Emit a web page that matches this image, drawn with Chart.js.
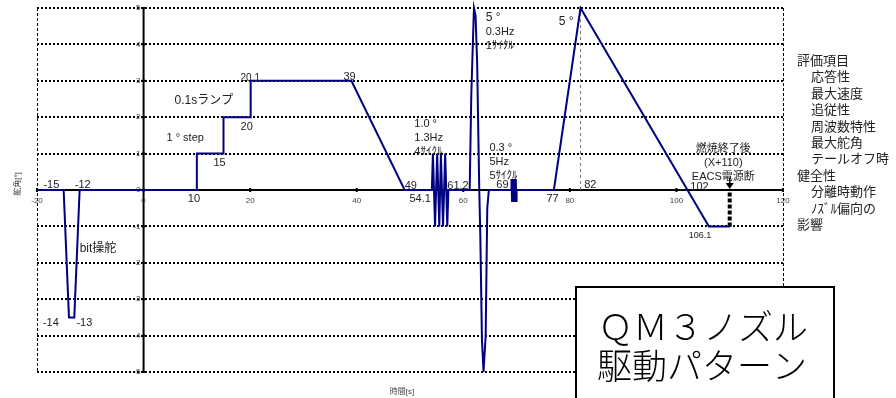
<!DOCTYPE html>
<html lang="ja">
<head>
<meta charset="utf-8">
<title>QM3ノズル駆動パターン</title>
<script src="https://cdn.jsdelivr.net/npm/chart.js@4/dist/chart.umd.min.js"></script>
<style>
  html, body { margin: 0; padding: 0; background: #fff; }
  #wrap { width: 896px; height: 398px; position: relative; }
</style>
</head>
<body>
<div id="wrap"><canvas id="myChart" width="896" height="398"></canvas></div>
<script>
// 駆動パターン（時間[s] と 舵角[°]）
const timeS = [
  -20, -15, -14, -13, -12,
  10, 10, 15, 15, 20, 20.1, 39, 49,
  54.1, 54.3, 54.7, 55.1, 55.5, 55.8, 56.2, 56.6, 57.0, 57.2,
  61.2, 61.5, 62.0, 62.3, 62.6, 63.0, 63.2, 63.5, 63.8, 64.2, 64.5, 64.8,
  69, 69.05, 69.15, 69.25, 69.35, 69.45, 69.55, 69.65, 69.75, 69.85, 69.95, 70,
  77, 82, 106.1, 110
];
const angleDeg = [
  0, 0, -3.5, -3.5, 0,
  0, 1, 1, 2, 2, 3, 3, 0,
  0, 1, -1, 1, -1, 1, -1, 1, -1, 0,
  0, 2.6, 5, 4.8, 3.5, 0, -1.3, -4.1, -5, -4, -0.5, 0,
  0, 0.3, -0.3, 0.3, -0.3, 0.3, -0.3, 0.3, -0.3, 0.3, -0.3, 0,
  0, 5, -1, -1
];

// 補助線
const peakMarkT = [82, 82];
const peakMarkA = [0, 5];
const cutoffT = [110, 110];
const cutoffA = [-1, 0];

// 目盛
const xTicks = [-20, 0, 20, 40, 60, 80, 100, 120];
const yTicks = [5, 4, 3, 2, 1, 0, -1, -2, -3, -4, -5];

// 注記 [文字, 時間, 舵角, 文字サイズ, 揃え]
const notes = [
  ['-15', -18.8, 0.14, 11], ['-12', -12.9, 0.14, 11],
  ['-14', -18.9, -3.65, 11], ['-13', -12.6, -3.65, 11],
  ['bit操舵', -12.0, -1.6, 12],
  ['1 ° step', 4.3, 1.43, 11], ['0.1sランプ', 5.8, 2.45, 12],
  ['20.1', 18.2, 3.08, 10], ['15', 13.1, 0.74, 11], ['20', 18.2, 1.73, 11],
  ['10', 8.3, -0.25, 11], ['39', 37.5, 3.1, 11],
  ['49', 49.0, 0.11, 11], ['54.1', 49.9, -0.25, 11], ['61.2', 57.0, 0.11, 11],
  ['1.0 °', 50.8, 1.81, 11], ['1.3Hz', 50.8, 1.43, 11], ['4ｻｲｸﾙ', 50.8, 1.04, 11],
  ['5 °', 64.2, 4.73, 12], ['0.3Hz', 64.2, 4.34, 11], ['1ｻｲｸﾙ', 64.2, 3.96, 11],
  ['0.3 °', 64.9, 1.15, 11], ['5Hz', 64.9, 0.77, 11], ['5ｻｲｸﾙ', 64.9, 0.38, 11],
  ['69', 66.2, 0.14, 11], ['77', 75.6, -0.25, 11], ['5 °', 77.9, 4.62, 12],
  ['82', 82.7, 0.14, 11], ['102', 102.6, 0.08, 11], ['106.1', 102.3, -1.24, 9],
  ['燃焼終了後', 108.8, 1.13, 11, 'center'], ['(X+110)', 108.8, 0.74, 11, 'center'],
  ['EACS電源断', 108.8, 0.36, 11, 'center']
];

const evalItems = [
  ['評価項目', 0], ['応答性', 1], ['最大速度', 1], ['追従性', 1], ['周波数特性', 1],
  ['最大舵角', 1], ['テールオフ時', 1], ['健全性', 0], ['分離時動作', 1],
  ['ﾉｽﾞﾙ偏向の', 1], ['影響', 0]
];

const FONT = '"Liberation Sans", "Noto Sans CJK JP", sans-serif';
const JP = '"Noto Sans CJK JP", sans-serif';

const pts = (xs, ys) => xs.map((x, i) => ({ x: x, y: ys[i] }));

// 格子・軸・目盛を描く
const axesPlugin = {
  id: 'axesPlugin',
  beforeDatasetsDraw(chart) {
    const { ctx, scales: { x, y } } = chart;
    const x0 = x.getPixelForValue(-20), x1 = x.getPixelForValue(120);
    const yTop = y.getPixelForValue(5), yBot = y.getPixelForValue(-5);
    const ox = x.getPixelForValue(0), oy = y.getPixelForValue(0);
    ctx.save();
    // 点線の横格子
    ctx.strokeStyle = '#000';
    ctx.lineWidth = 2;
    ctx.setLineDash([2, 2]);
    yTicks.forEach(v => {
      if (v === 0) return;
      const py = Math.round(y.getPixelForValue(v));
      ctx.beginPath(); ctx.moveTo(x0, py); ctx.lineTo(x1, py); ctx.stroke();
    });
    // 左右の破線枠
    ctx.lineWidth = 1;
    ctx.setLineDash([3, 2]);
    [x0, x1].forEach(px => {
      px = Math.round(px) + 0.5;
      ctx.beginPath(); ctx.moveTo(px, yTop); ctx.lineTo(px, yBot); ctx.stroke();
    });
    // 軸
    ctx.setLineDash([]);
    ctx.lineWidth = 2;
    ctx.beginPath(); ctx.moveTo(x0, oy); ctx.lineTo(x1, oy); ctx.stroke();
    ctx.beginPath(); ctx.moveTo(ox, yTop); ctx.lineTo(ox, yBot); ctx.stroke();
    // 目盛と数値
    ctx.font = '8px ' + FONT;
    ctx.textAlign = 'center';
    ctx.textBaseline = 'middle';
    xTicks.forEach(v => {
      const px = x.getPixelForValue(v);
      ctx.fillStyle = '#000';
      ctx.fillRect(px - 1, oy - 2, 2, 4);
      ctx.fillStyle = '#444';
      ctx.fillText(String(v), px, oy + 11);
    });
    ctx.textAlign = 'right';
    yTicks.forEach(v => {
      const py = y.getPixelForValue(v);
      ctx.fillStyle = '#000';
      ctx.fillRect(ox - 2, py - 1, 4, 2);
      ctx.fillStyle = '#444';
      ctx.fillText(String(v), ox - 3, py);
    });
    // 軸ラベル
    ctx.textAlign = 'center';
    ctx.fillText('時間[s]', x.getPixelForValue(48.5), 392);
    ctx.translate(18, oy - 6);
    ctx.rotate(-Math.PI / 2);
    ctx.fillText('舵角[°]', 0, 0);
    ctx.restore();
  },
  afterDatasetsDraw(chart) {
    const { ctx, scales: { x, y } } = chart;
    ctx.save();
    ctx.fillStyle = '#222';
    ctx.textBaseline = 'middle';
    notes.forEach(([t, tx, ty, size, align]) => {
      ctx.font = size + 'px ' + FONT;
      ctx.textAlign = align || 'left';
      ctx.fillText(t, x.getPixelForValue(tx), y.getPixelForValue(ty));
    });
    // 電源断の矢印
    const ax = x.getPixelForValue(110), ay = y.getPixelForValue(0);
    ctx.strokeStyle = '#000';
    ctx.lineWidth = 1.5;
    ctx.beginPath(); ctx.moveTo(ax, ay - 12); ctx.lineTo(ax, ay - 6); ctx.stroke();
    ctx.fillStyle = '#000';
    ctx.beginPath();
    ctx.moveTo(ax - 4, ay - 7); ctx.lineTo(ax + 4, ay - 7); ctx.lineTo(ax, ay - 1);
    ctx.closePath(); ctx.fill();

    // 評価項目
    ctx.fillStyle = '#222';
    ctx.textAlign = 'left';
    ctx.font = '13px ' + JP;
    evalItems.forEach(([t, indent], i) => {
      ctx.fillText(t, 797 + indent * 14, 60 + i * 16.4);
    });

    // タイトル枠
    ctx.fillStyle = '#fff';
    ctx.fillRect(576, 287, 258, 120);
    ctx.strokeStyle = '#000';
    ctx.lineWidth = 2;
    ctx.strokeRect(576, 287, 258, 120);
    ctx.fillStyle = '#000';
    ctx.textAlign = 'center';
    ctx.font = '300 35px ' + JP;
    ctx.fillText('ＱＭ３ノズル', 703, 327);
    ctx.fillText('駆動パターン', 702, 366);
    ctx.restore();
  }
};

const ctx = document.getElementById('myChart').getContext('2d');
const myChart = new Chart(ctx, {
  type: 'scatter',
  data: {
    datasets: [
      {
        label: '舵角',
        data: pts(timeS, angleDeg),
        showLine: true,
        borderColor: '#000080',
        borderWidth: 2,
        pointRadius: 0,
        clip: false
      },
      {
        label: 'peak',
        data: pts(peakMarkT, peakMarkA),
        showLine: true,
        borderColor: '#777',
        borderWidth: 1,
        borderDash: [3, 3],
        pointRadius: 0
      },
      {
        label: 'cutoff',
        data: pts(cutoffT, cutoffA),
        showLine: true,
        borderColor: '#000',
        borderWidth: 4,
        borderDash: [4, 2],
        pointRadius: 0
      }
    ]
  },
  options: {
    responsive: false,
    animation: false,
    layout: { padding: { left: 37, right: 113, top: 8, bottom: 26 } },
    plugins: { legend: { display: false }, tooltip: { enabled: false } },
    scales: {
      x: { type: 'linear', min: -20, max: 120, display: false },
      y: { type: 'linear', min: -5, max: 5, display: false }
    }
  },
  plugins: [axesPlugin]
});
</script>
</body>
</html>
